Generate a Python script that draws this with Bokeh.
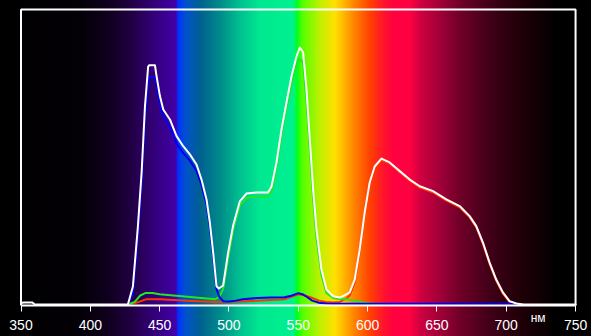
from bokeh.plotting import figure
from bokeh.models import Label, FixedTicker
from bokeh.embed import file_html
from bokeh.resources import INLINE

# ---- data (wavelength in nm, relative intensity) ----
wl_white = [350, 352, 358, 360, 380, 400, 420, 427.1, 430.7, 434.3, 437.0, 439.4, 441.7, 442.5,
            446.6, 447.8, 450.2, 452.6, 457.4, 462.2, 467.0, 471.8, 476.6, 480.2, 483.8,
            486.2, 488.6, 491.0, 492.7, 495.8, 499.4, 503.0, 507.8, 512.7, 520.1, 528.2,
            530.7, 534.3, 537.9, 541.5, 545.1, 548.7, 551.1, 553.5, 555.9, 558.3, 560.7,
            563.1, 566.7, 570.3, 575.1, 579.9, 584.7, 587.1, 590.7, 594.3, 597.9, 601.5,
            605.1, 610.0, 615.9, 623.2, 630.4, 637.6, 647.2, 656.8, 666.4, 673.6, 678.4,
            683.2, 688.0, 692.8, 697.6, 702.4, 707.3, 712, 730, 750]
white = [0.006, 0.008, 0.008, 0.0, 0.0, 0.0, 0.0, 0.0, 0.070, 0.303, 0.514, 0.770, 0.926, 0.931,
         0.931, 0.888, 0.811, 0.759, 0.720, 0.655, 0.616, 0.584, 0.545, 0.486, 0.409,
         0.319, 0.202, 0.071, 0.062, 0.074, 0.202, 0.307, 0.401, 0.432, 0.436, 0.436,
         0.459, 0.553, 0.681, 0.786, 0.887, 0.965, 1.000, 0.981, 0.837, 0.642, 0.447,
         0.292, 0.136, 0.058, 0.032, 0.027, 0.039, 0.047, 0.097, 0.214, 0.358, 0.475,
         0.537, 0.568, 0.553, 0.519, 0.486, 0.460, 0.441, 0.409, 0.383, 0.344, 0.305,
         0.241, 0.163, 0.097, 0.047, 0.013, 0.004, 0.0, 0.0, 0.0]

wl_blue = [427, 430.7, 434.3, 437.0, 439.4, 441.7, 443, 446.6, 447.8, 450.2, 452.6, 457.4,
           462.2, 467.0, 471.8, 476.6, 480.2, 483.8, 486.2, 488.6, 491.0, 493, 495.8, 500,
           505, 510, 520, 530, 540, 545, 550, 553, 556, 560, 565, 570, 575, 700, 706, 710]
blue = [0.0, 0.04, 0.26, 0.47, 0.72, 0.86, 0.885, 0.885, 0.85, 0.78, 0.73, 0.69,
        0.625, 0.59, 0.56, 0.52, 0.465, 0.39, 0.30, 0.185, 0.06, 0.03, 0.013, 0.012,
        0.015, 0.02, 0.025, 0.027, 0.028, 0.034, 0.044, 0.04, 0.03, 0.015, 0.007, 0.004, 0.003, 0.003, 0.002, 0.0]

wl_green = [427, 432, 436, 440, 445, 450, 460, 470, 480, 490, 493, 495.8, 499.4, 503,
            507.8, 512.7, 520, 528, 530.7, 534.3, 537.9, 541.5, 545.1, 548.7, 551.1,
            553.5, 555.9, 558.3, 560.7, 563.1, 566.7, 570.3, 575, 580, 585, 590, 600, 610]
green = [0.0, 0.01, 0.035, 0.045, 0.045, 0.04, 0.035, 0.03, 0.025, 0.02, 0.03, 0.06, 0.18, 0.29,
         0.385, 0.415, 0.42, 0.42, 0.44, 0.535, 0.66, 0.765, 0.86, 0.935, 0.955,
         0.94, 0.79, 0.60, 0.41, 0.26, 0.115, 0.045, 0.025, 0.02, 0.02, 0.015, 0.005, 0.0]

wl_red = [427, 435, 440, 450, 470, 490, 500, 520, 540, 550, 555, 560, 565, 570, 575, 580,
          585, 587.1, 590.7, 594.3, 597.9, 601.5, 605.1, 610.0, 615.9, 623.2, 630.4, 637.6,
          647.2, 656.8, 666.4, 673.6, 678.4, 683.2, 688.0, 692.8, 697.6, 702.4, 707.3, 712]
red = [0.0, 0.01, 0.02, 0.02, 0.015, 0.01, 0.01, 0.015, 0.02, 0.04, 0.035, 0.025, 0.015, 0.01,
       0.008, 0.01, 0.025, 0.035, 0.085, 0.205, 0.35, 0.468, 0.53, 0.562, 0.548, 0.514,
       0.481, 0.455, 0.436, 0.404, 0.378, 0.339, 0.30, 0.236, 0.158, 0.092, 0.042, 0.009, 0.002, 0.0]

x_ticks = [350, 400, 450, 500, 550, 600, 650, 700, 750]
unit_pos = 723
unit_label = "нм"

# ---- ranges: the frame fills the whole canvas so every text lies inside it ----
X0, X1 = x_ticks[0], x_ticks[-1]
X_LEFT, X_RIGHT = 335.2, 761.5     # canvas edges in nm
Y_BASE = -0.004                    # where the axis line sits
Y_TOP = 1.148                      # top of the white box
Y_CANVAS_TOP, Y_CANVAS_BOTTOM = 1.183, -0.1246

# ---- spectrum background (CSS gradient across the whole figure) ----
stops = [
    (0, "#000000"), (80, "#030006"), (110, "#100020"), (130, "#200040"),
    (150, "#300070"), (165, "#3a0090"), (176, "#4200a8"), (178, "#0030ff"),
    (185, "#0050d0"), (200, "#006090"), (220, "#008a8a"), (240, "#00c090"),
    (260, "#00e890"), (293, "#00f090"), (297, "#00ff20"), (302, "#50ff00"),
    (320, "#c0f000"), (335, "#ffe000"), (345, "#ffb000"), (355, "#ff8000"),
    (370, "#ff4000"), (385, "#ff1030"), (395, "#ff0040"), (410, "#ff0040"),
    (420, "#d00040"), (440, "#a00038"), (460, "#700028"), (490, "#400018"),
    (520, "#200008"), (540, "#100004"), (555, "#000000"), (591, "#000000"),
]
grad = "linear-gradient(to right, " + ", ".join(f"{c} {x}px" for x, c in stops) + ")"

p = figure(width=591, height=336, output_backend="svg", toolbar_location=None,
           x_range=(X_LEFT, X_RIGHT), y_range=(Y_CANVAS_BOTTOM, Y_CANVAS_TOP),
           min_border=0,
           background_fill_alpha=0, border_fill_alpha=0,
           outline_line_color=None,
           styles={"background": grad})

p.yaxis.visible = False
p.grid.visible = False

ax = p.xaxis[0]
ax.fixed_location = Y_BASE
ax.bounds = (X0, X1)
ax.ticker = FixedTicker(ticks=x_ticks)
ax.axis_line_color = "white"
ax.axis_line_width = 2
ax.major_tick_line_color = "white"
ax.major_tick_line_width = 1
ax.major_tick_out = 6
ax.major_tick_in = 0
ax.minor_tick_line_color = None
ax.major_label_text_color = "white"
ax.major_label_text_font = "Liberation Sans"
ax.major_label_text_font_size = "14px"
ax.major_label_standoff = 8

# white box around the plotting area (left, top, right edges)
p.multi_line(xs=[[X0, X0, X1, X1]], ys=[[Y_BASE, Y_TOP, Y_TOP, Y_BASE]],
             line_color="white", line_width=2)

kw = dict(line_width=2, line_join="round", line_cap="round")
p.line(wl_red, red, line_color="#ff3300", **kw)
p.line(wl_green, green, line_color="#22e622", **kw)
p.line(wl_blue, blue, line_color="#0000f0", **kw)
p.line(wl_white, white, line_color="#ffffff", **kw)

p.add_layout(Label(x=unit_pos, y=-0.051, text=unit_label, text_color="white",
                   text_font="Liberation Sans", text_font_size="12px",
                   text_align="center", text_baseline="middle"))

open("out.html", "w").write(file_html(p, INLINE))
